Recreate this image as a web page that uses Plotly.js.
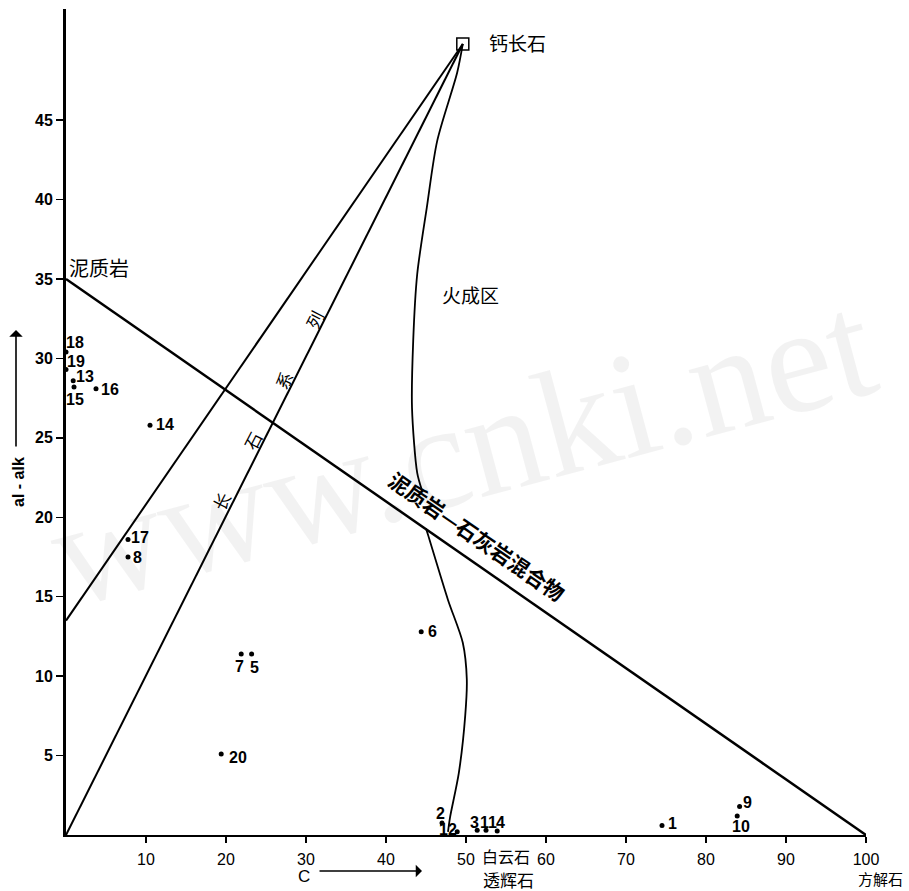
<!DOCTYPE html>
<html><head><meta charset="utf-8">
<script src="https://cdn.plot.ly/plotly-3.0.1.min.js"></script>
<style>body{margin:0;background:#fff}#chart{width:909px;height:891px}</style>
</head><body><div id="chart"></div>
<script>
// ---- data ----
const xTicks = [10, 20, 30, 40, 50, 60, 70, 80, 90, 100];
const xTickText = ['10', '20', '30', '40', '50', '60', '70', '80', '90', '100'];
const yTicks = [5, 10, 15, 20, 25, 30, 35, 40, 45];
const yTickText = ['5', '10', '15', '20', '25', '30', '35', '40', '45'];

const apexX = [49.6];           // 钙长石
const apexY = [49.8];
const feldUpperX = [0, 49.6];   // 长石系列 upper bound
const feldUpperY = [13.5, 49.8];
const feldLowerX = [0, 49.6];   // 长石系列 lower bound
const feldLowerY = [0, 49.8];
const mixX = [0, 100];          // 泥质岩—石灰岩混合物
const mixY = [35, 0];
const igneousX = [49.6, 48.9, 46.4, 45.1, 43.9, 43.4, 43.25, 43.9, 44.5, null, 45.0, 45.25, 47.75, 49.6, 50.1, 49.9, 49.1, 48.0, 47.75];
const igneousY = [49.8, 48.0, 43.7, 39.5, 35.3, 31.1, 26.9, 22.8, 21.7, null, 19.3, 18.9, 14.8, 12.1, 9.8, 7.5, 3.9, 1.1, 0.2];

const sampleIds = ['18', '19', '13', '15', '16', '14', '17', '8', '7', '5', '20', '6', '2', '12', '3', '11', '4', '1', '9', '10'];
const sampleX = [0, 0, 0.9, 1.0, 3.75, 10.5, 7.75, 7.75, 21.9, 23.2, 19.4, 44.4, 47.0, 48.9, 51.4, 52.5, 53.9, 74.5, 84.2, 83.9];
const sampleY = [30.4, 29.3, 28.6, 28.2, 28.1, 25.8, 18.6, 17.5, 11.4, 11.4, 5.1, 12.8, 0.75, 0.2, 0.3, 0.3, 0.25, 0.6, 1.8, 1.2];
// label offsets in screen pixels (style only)
const labelDx = [9, 10, 12, 1, 14, 15, 12, 9, -2, 3, 17, 11, -2, -9, -3, 2, 3, 10, 8, 4];
const labelDy = [-10, -8, -4, 12, 1, -1, -2, 0, 13, 14, 4, 0, -10, -2, -8, -8, -9, -2, -4, 11];

// ---- traces ----
const lineStyle = {color: '#000', width: 2};
const traces = [
  {x: feldUpperX, y: feldUpperY, mode: 'lines', line: lineStyle, hoverinfo: 'skip', cliponaxis: false},
  {x: feldLowerX, y: feldLowerY, mode: 'lines', line: lineStyle, hoverinfo: 'skip', cliponaxis: false},
  {x: mixX, y: mixY, mode: 'lines', line: {color: '#000', width: 2.5}, hoverinfo: 'skip', cliponaxis: false},
  {x: igneousX, y: igneousY, mode: 'lines', line: {color: '#000', width: 1.8, shape: 'spline', smoothing: 0.8}, connectgaps: false, hoverinfo: 'skip', cliponaxis: false},
  {x: apexX, y: apexY, mode: 'markers', marker: {symbol: 'square-open', size: 12, color: '#000', line: {width: 1.5, color: '#000'}}, cliponaxis: false},
  {x: sampleX, y: sampleY, mode: 'markers', marker: {size: 5, color: '#000'}, text: sampleIds, cliponaxis: false}
];

// pixel -> paper helpers (plot area: x 66..866, y 9..835)
const px = v => (v - 66) / 800;
const py = v => (835 - v) / 826;

const sans = 'Liberation Sans, Arial, sans-serif';
const lblFont = {family: sans, size: 16, color: '#000', weight: 'bold'};
const cjk = 'Noto Sans CJK SC, sans-serif';
const P = {xref: 'paper', yref: 'paper', xanchor: 'center', yanchor: 'middle', showarrow: false};
const annotations = [];
// watermark
annotations.push(Object.assign({}, P, {x: px(462), y: py(450), text: 'www.cnki.net',
  font: {family: 'Liberation Serif, serif', size: 152, color: 'rgba(0,0,0,0.05)'}, textangle: -15}));
sampleIds.forEach((id, i) => {
  annotations.push({x: sampleX[i], y: sampleY[i], xref: 'x', yref: 'y', text: id, showarrow: false,
    xanchor: 'center', yanchor: 'middle', xshift: labelDx[i], yshift: -labelDy[i], font: lblFont});
});
annotations.push(
  {x: 52.6, y: 49.9, xref: 'x', yref: 'y', text: '钙长石', showarrow: false, xanchor: 'left', yanchor: 'middle', font: {family: cjk, size: 19, color: '#000'}},
  {x: 0.1, y: 35.7, xref: 'x', yref: 'y', text: '泥质岩', showarrow: false, xanchor: 'left', yanchor: 'middle', font: {family: cjk, size: 20, color: '#000'}},
  {x: 46.75, y: 34.0, xref: 'x', yref: 'y', text: '火成区', showarrow: false, xanchor: 'left', yanchor: 'middle', font: {family: cjk, size: 19, color: '#000'}},
  Object.assign({}, P, {x: px(477), y: py(536), text: '泥质岩—石灰岩混合物', textangle: 34.6,
    font: {family: cjk, size: 21, color: '#000', weight: 'bold'}}),
  {x: 25.25, y: 26.7, xref: 'x', yref: 'y', text: '长\u2003\u2003\u2003石\u2003\u2003\u2003系\u2003\u2003\u2003列', showarrow: false,
    xanchor: 'center', yanchor: 'middle', textangle: -62.8, font: {family: cjk, size: 17, color: '#000'}},
  Object.assign({}, P, {x: px(506), y: py(856), text: '白云石', font: {family: cjk, size: 16, color: '#000'}}),
  Object.assign({}, P, {x: px(508), y: py(879), text: '透辉石', font: {family: cjk, size: 17, color: '#000'}}),
  Object.assign({}, P, {x: px(880), y: py(878), text: '方解石', font: {family: cjk, size: 15, color: '#000'}}),
  Object.assign({}, P, {x: px(304), y: py(876), text: 'C', font: {family: sans, size: 17, color: '#000'}}),
  {x: px(422), y: py(871), xref: 'paper', yref: 'paper', ax: -104, ay: 0, axref: 'pixel', ayref: 'pixel', text: '', showarrow: true,
    arrowhead: 1, arrowsize: 1.6, arrowwidth: 1.3, arrowcolor: '#000', standoff: 0, startstandoff: 0},
  Object.assign({}, P, {x: px(18), y: py(482), text: 'al - alk', textangle: -90,
    font: {family: sans, size: 16, color: '#000', weight: 'bold'}}),
  {x: px(16), y: py(330), xref: 'paper', yref: 'paper', ax: 0, ay: 118, axref: 'pixel', ayref: 'pixel', text: '', showarrow: true,
    arrowhead: 1, arrowsize: 1.4, arrowwidth: 1.6, arrowcolor: '#000', standoff: 0, startstandoff: 0}
);

const layout = {
  width: 909, height: 891,
  margin: {l: 66, r: 43, t: 9, b: 56},
  paper_bgcolor: '#fff', plot_bgcolor: '#fff',
  showlegend: false,
  xaxis: {range: [0, 100], showgrid: false, zeroline: false, showline: true, linecolor: '#000', linewidth: 2,
    ticks: 'outside', ticklen: 6, tickwidth: 1.5, tickcolor: '#000', tickvals: xTicks, ticktext: xTickText,
    ticklabelstandoff: 3, tickfont: {family: sans, size: 16, color: '#000'}},
  yaxis: {range: [0, 52], showgrid: false, zeroline: false, showline: true, linecolor: '#000', linewidth: 3,
    ticks: 'outside', ticklen: 7, tickwidth: 1.5, tickcolor: '#000', tickvals: yTicks, ticktext: yTickText,
    tickfont: {family: sans, size: 16, color: '#000', weight: 'bold'}},
  annotations: annotations
};

Plotly.newPlot('chart', traces, layout, {staticPlot: true});
</script>
</body></html>
